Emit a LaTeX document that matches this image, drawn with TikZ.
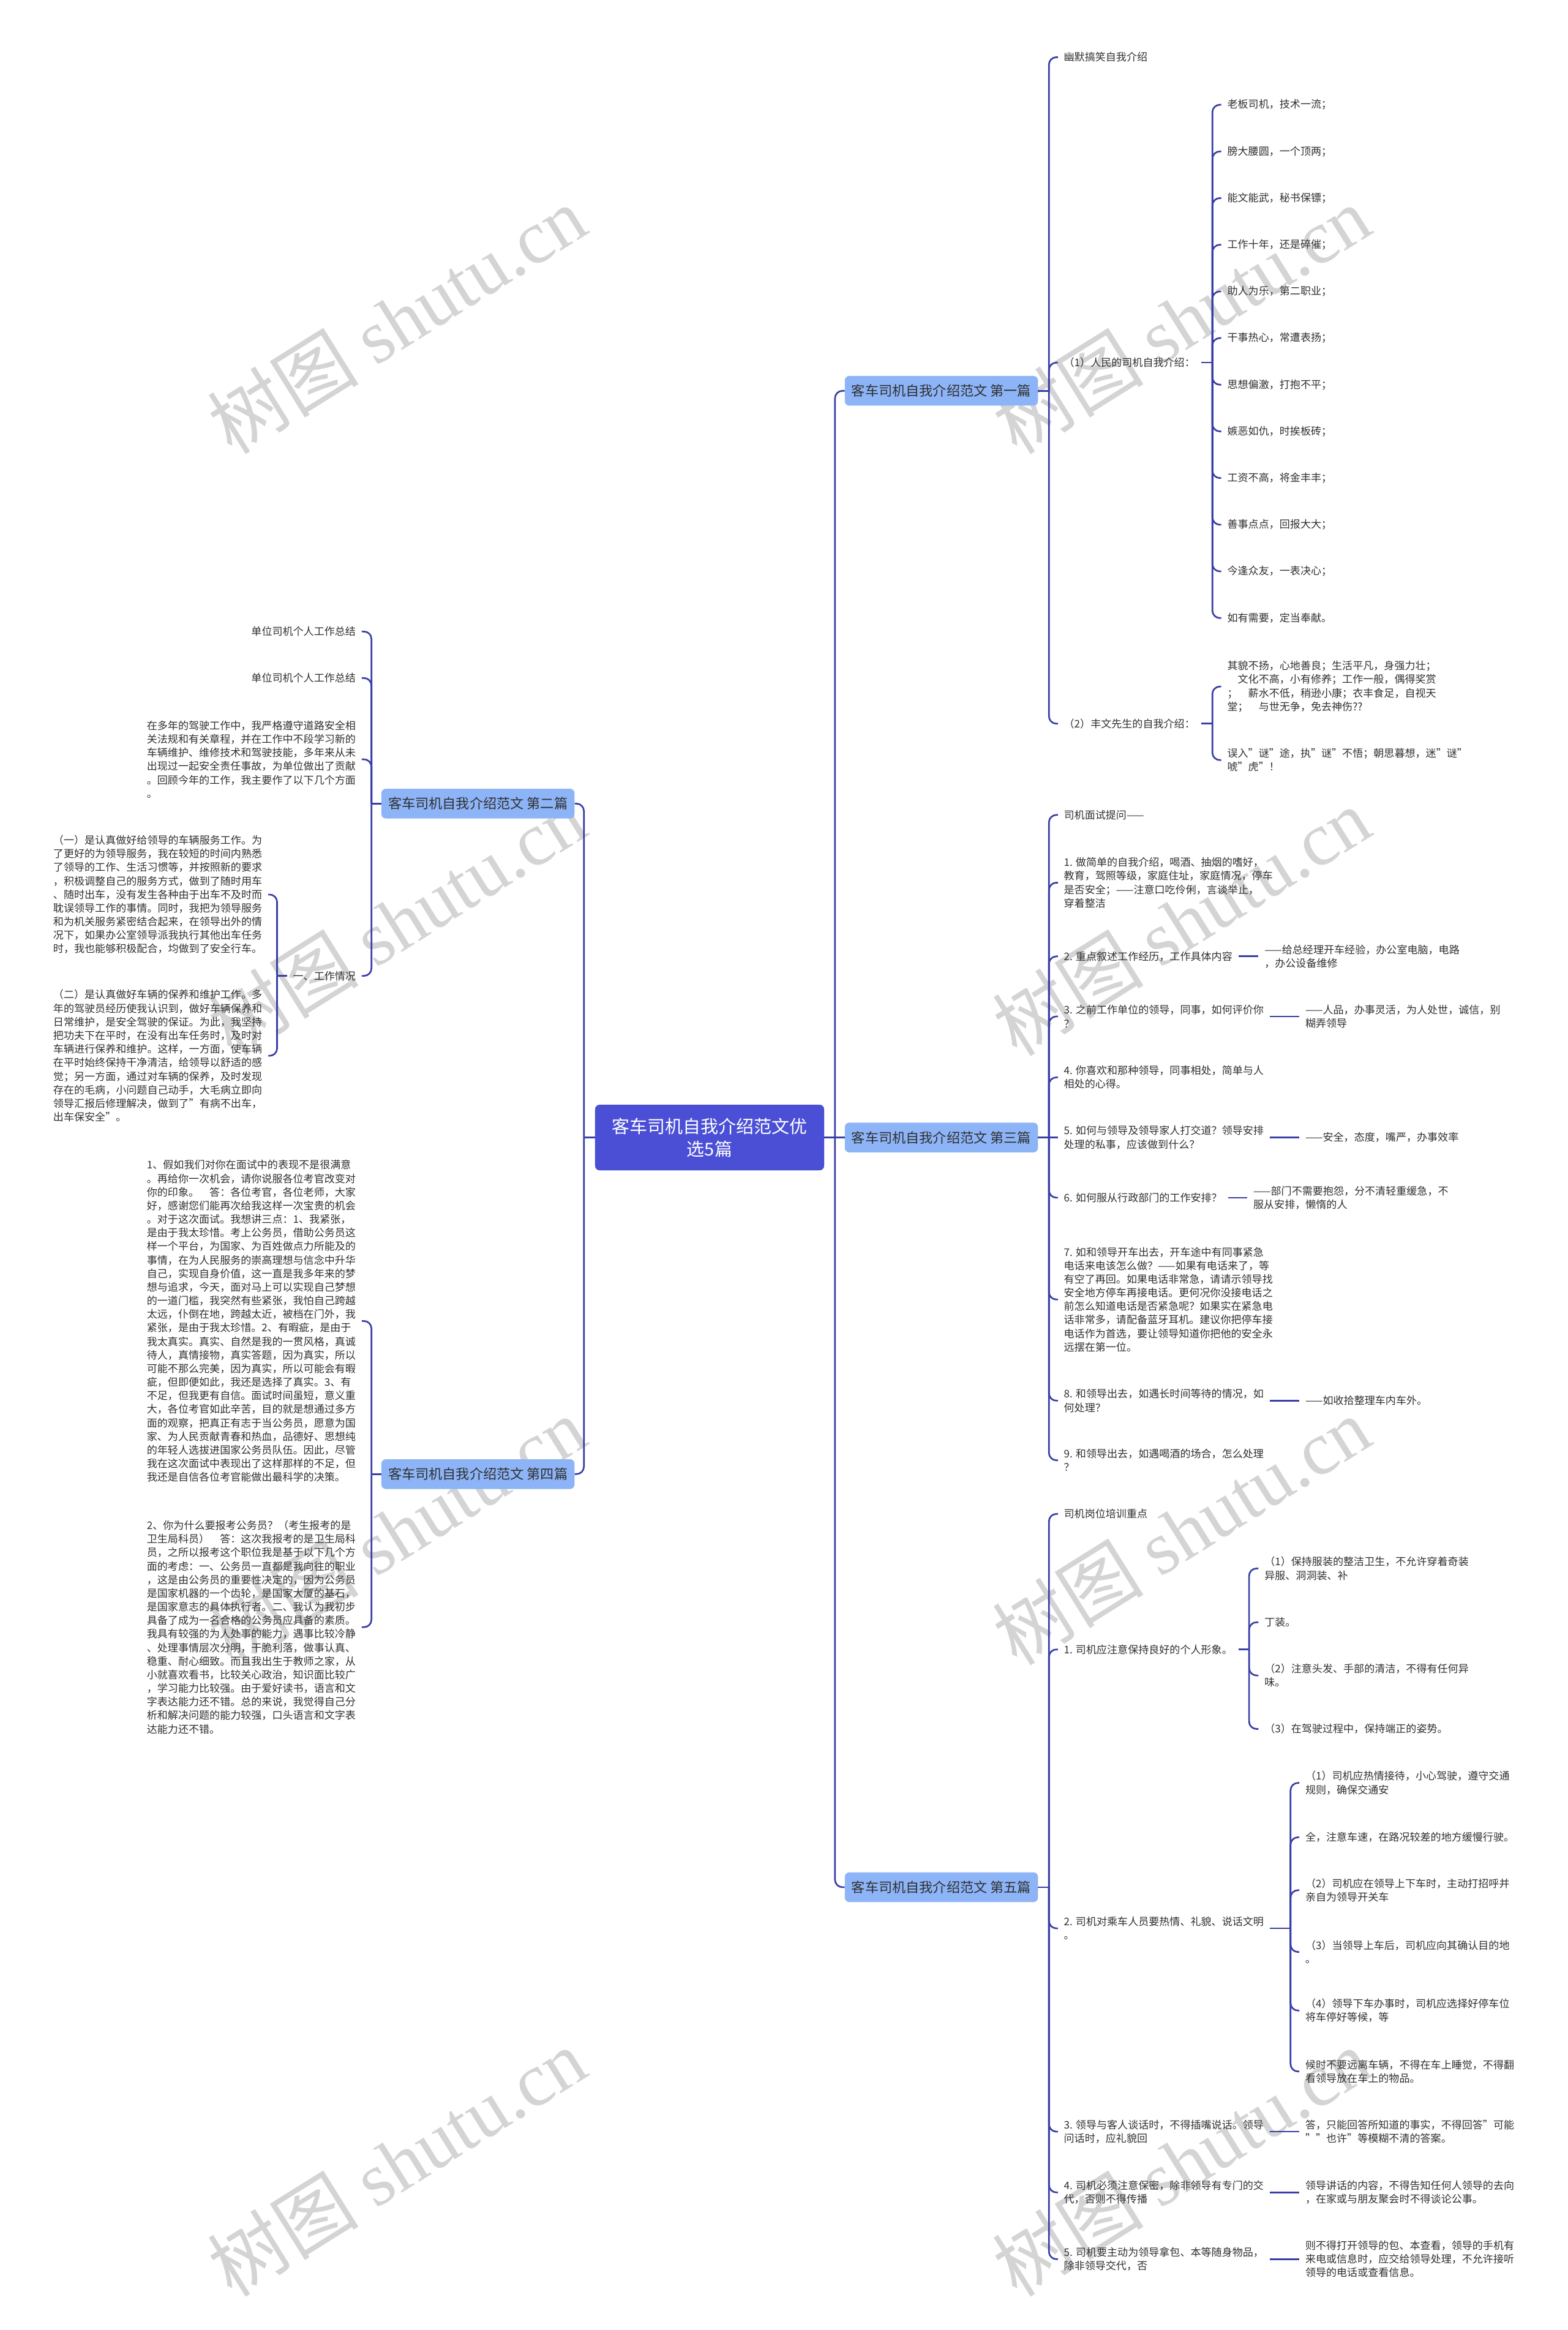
\documentclass[tikz,border=0pt]{standalone}
\usepackage{fontspec}
\setmainfont{Noto Sans CJK SC}
\newfontfamily\markserif{Liberation Serif}
\usetikzlibrary{positioning,calc}
\definecolor{rootblue}{RGB}{74,79,214}
\definecolor{topicblue}{RGB}{140,180,247}
\definecolor{linknavy}{RGB}{56,62,166}
\definecolor{leafgray}{RGB}{48,48,48}
\definecolor{markgray}{RGB}{212,212,212}

\begin{document}
\begin{tikzpicture}[
    x=1mm, y=-1mm,
    rootbox/.style={fill=rootblue, draw=rootblue!85!black, rounded corners=3mm, text=white, align=center, minimum width=154mm, minimum height=44mm, inner sep=0pt, font=\fontsize{34}{44}\selectfont},
    topicbox/.style={fill=topicblue, rounded corners=3mm, text=leafgray, minimum width=130mm, minimum height=20mm, inner sep=0pt, font=\fontsize{26}{30}\selectfont},
    leaf/.style={text=leafgray, align=left, inner xsep=4mm, inner ysep=1mm, font=\fontsize{20}{26}\selectfont},
    conn/.style={draw=linknavy, line width=1.1mm, rounded corners=5mm},
    watermark/.style={text=markgray, rotate=32, inner sep=0pt, font=\fontsize{145}{150}\selectfont}
]

% Page
\fill[white] (0,0) rectangle (1055,1568);
\useasboundingbox (0,0) rectangle (1055,1568);

% Watermarks
\foreach \mx in {267,795}
  \foreach \my [count=\w] in {215,620,1030,1455}
    \node[watermark] (wm\mx-\w) at (\mx,\my) {树图 {\markserif shutu.cn}};

% Root and the five topics
\node[rootbox] (root) at (477.6,765.5) {客车司机自我介绍范文优\\选5篇};
\node[topicbox] (t1) at (633.6,263) {客车司机自我介绍范文 第一篇};
\node[topicbox] (t3) at (633.6,765.5) {客车司机自我介绍范文 第三篇};
\node[topicbox] (t5) at (633.6,1270) {客车司机自我介绍范文 第五篇};
\node[topicbox] (t2) at (321.7,540.8) {客车司机自我介绍范文 第二篇};
\node[topicbox] (t4) at (321.7,992) {客车司机自我介绍范文 第四篇};

\coordinate (rs) at (562,765.5);
\coordinate (ls) at (393,765.5);
\draw[conn] (root.east) -- (t3.west);
\draw[conn] (rs) |- (t1.west);
\draw[conn] (rs) |- (t5.west);
\draw[conn] (root.west) -- (ls);
\draw[conn] (ls) |- (t2.east);
\draw[conn] (ls) |- (t4.east);

% Topic 1
\node[leaf, anchor=west] (a1) at (712,38.5) {幽默搞笑自我介绍};
\node[leaf, anchor=west] (a2) at (712,244) {（1）人民的司机自我介绍：};
\node[leaf, anchor=west] (a3) at (712,487) {（2）丰文先生的自我介绍：};
\coordinate (t1s) at (706,263);
\draw[conn] (t1.east) -- (t1s);
\foreach \c in {a1,a2,a3}
  \draw[conn] (t1s) |- (\c.west);

\coordinate (a2s) at (816,244);
\draw[conn] (a2.east) -- (a2s);
\foreach \txt [count=\k from 0] in {老板司机，技术一流；,膀大腰圆，一个顶两；,能文能武，秘书保镖；,工作十年，还是碎催；,助人为乐，第二职业；,干事热心，常遭表扬；,思想偏激，打抱不平；,嫉恶如仇，时挨板砖；,工资不高，将金丰丰；,善事点点，回报大大；,今逢众友，一表决心；,如有需要，定当奉献。} {
  \node[leaf, anchor=west] (rule\k) at (822,{70.5+31.4*\k}) {\txt};
  \draw[conn] (a2s) |- (rule\k.west);
}

\node[leaf, anchor=west] (a3a) at (822,462) {其貌不扬，心地善良；生活平凡，身强力壮；\\　文化不高，小有修养；工作一般，偶得奖赏\\；　薪水不低，稍逊小康；衣丰食足，自视天\\堂；　与世无争，免去神伤??};
\node[leaf, anchor=west] (a3b) at (822,511.5) {误入"谜"途，执"谜"不悟；朝思暮想，迷"谜"\\唬"虎"！};
\coordinate (a3s) at (816,487);
\draw[conn] (a3.east) -- (a3s);
\draw[conn] (a3s) |- (a3a.west);
\draw[conn] (a3s) |- (a3b.west);

% Topic 3
\node[leaf, anchor=west] (b0) at (712,548.4) {司机面试提问——};
\node[leaf, anchor=west] (b1) at (712,594) {1. 做简单的自我介绍，喝酒、抽烟的嗜好，\\教育，驾照等级，家庭住址，家庭情况，停车\\是否安全；——注意口吃伶俐，言谈举止，\\穿着整洁};
\node[leaf, anchor=west] (b2) at (712,643.6) {2. 重点叙述工作经历，工作具体内容};
\node[leaf, anchor=west] (b3) at (712,684) {3. 之前工作单位的领导，同事，如何评价你\\？};
\node[leaf, anchor=west] (b4) at (712,725) {4. 你喜欢和那种领导，同事相处，简单与人\\相处的心得。};
\node[leaf, anchor=west] (b5) at (712,765.5) {5. 如何与领导及领导家人打交道？领导安排\\处理的私事，应该做到什么？};
\node[leaf, anchor=west] (b6) at (712,806) {6. 如何服从行政部门的工作安排？};
\node[leaf, anchor=west] (b7) at (712,874.5) {7. 如和领导开车出去，开车途中有同事紧急\\电话来电该怎么做？——如果有电话来了，等\\有空了再回。如果电话非常急，请请示领导找\\安全地方停车再接电话。更何况你没接电话之\\前怎么知道电话是否紧急呢？如果实在紧急电\\话非常多，请配备蓝牙耳机。建议你把停车接\\电话作为首选，要让领导知道你把他的安全永\\远摆在第一位。};
\node[leaf, anchor=west] (b8) at (712,942.6) {8. 和领导出去，如遇长时间等待的情况，如\\何处理？};
\node[leaf, anchor=west] (b9) at (712,982.7) {9. 和领导出去，如遇喝酒的场合，怎么处理\\？};
\coordinate (t3s) at (706,765.5);
\draw[conn] (t3.east) -- (b5.west);
\foreach \c in {b0,b1,b2,b3,b4,b6,b7,b8,b9}
  \draw[conn] (t3s) |- (\c.west);

\node[leaf, anchor=west] (b2x) at (847,643.6) {——给总经理开车经验，办公室电脑，电路\\，办公设备维修};
\node[leaf, anchor=west] (b3x) at (874.5,684) {——人品，办事灵活，为人处世，诚信，别\\糊弄领导};
\node[leaf, anchor=west] (b5x) at (874.5,765.5) {——安全，态度，嘴严，办事效率};
\node[leaf, anchor=west] (b6x) at (839.5,806) {——部门不需要抱怨，分不清轻重缓急，不\\服从安排，懒惰的人};
\node[leaf, anchor=west] (b8x) at (874.5,942.6) {——如收拾整理车内车外。};
\foreach \c in {b2,b3,b5,b6,b8}
  \draw[conn] (\c.east) -- (\c x.west);

% Topic 5
\node[leaf, anchor=west] (c0) at (712,1018.8) {司机岗位培训重点};
\node[leaf, anchor=west] (c1) at (712,1110) {1. 司机应注意保持良好的个人形象。};
\node[leaf, anchor=west] (c2) at (712,1297.7) {2. 司机对乘车人员要热情、礼貌、说话文明\\。};
\node[leaf, anchor=west] (c3) at (712,1434.5) {3. 领导与客人谈话时，不得插嘴说话。领导\\问话时，应礼貌回};
\node[leaf, anchor=west] (c4) at (712,1475.4) {4. 司机必须注意保密，除非领导有专门的交\\代，否则不得传播};
\node[leaf, anchor=west] (c5) at (712,1520.3) {5. 司机要主动为领导拿包、本等随身物品，\\除非领导交代，否};
\coordinate (t5s) at (706,1270);
\draw[conn] (t5.east) -- (t5s);
\foreach \c in {c0,c1,c2,c3,c4,c5}
  \draw[conn] (t5s) |- (\c.west);

\node[leaf, anchor=west] (c1a) at (847,1055.5) {（1）保持服装的整洁卫生，不允许穿着奇装\\异服、洞洞装、补};
\node[leaf, anchor=west] (c1b) at (847,1091.7) {丁装。};
\node[leaf, anchor=west] (c1c) at (847,1127.5) {（2）注意头发、手部的清洁，不得有任何异\\味。};
\node[leaf, anchor=west] (c1d) at (847,1163.5) {（3）在驾驶过程中，保持端正的姿势。};
\coordinate (c1s) at (840.7,1110);
\draw[conn] (c1.east) -- (c1s);
\foreach \c in {c1a,c1b,c1c,c1d}
  \draw[conn] (c1s) |- (\c.west);

\node[leaf, anchor=west] (c2a) at (874.5,1199.8) {（1）司机应热情接待，小心驾驶，遵守交通\\规则，确保交通安};
\node[leaf, anchor=west] (c2b) at (874.5,1236.4) {全，注意车速，在路况较差的地方缓慢行驶。};
\node[leaf, anchor=west] (c2c) at (874.5,1272) {（2）司机应在领导上下车时，主动打招呼并\\亲自为领导开关车};
\node[leaf, anchor=west] (c2d) at (874.5,1313.6) {（3）当领导上车后，司机应向其确认目的地\\。};
\node[leaf, anchor=west] (c2e) at (874.5,1353) {（4）领导下车办事时，司机应选择好停车位\\将车停好等候，等};
\node[leaf, anchor=west] (c2f) at (874.5,1394) {候时不要远离车辆，不得在车上睡觉，不得翻\\看领导放在车上的物品。};
\coordinate (c2s) at (868.6,1297.7);
\draw[conn] (c2.east) -- (c2s);
\foreach \c in {c2a,c2b,c2c,c2d,c2e,c2f}
  \draw[conn] (c2s) |- (\c.west);

\node[leaf, anchor=west] (c3x) at (874.5,1434.5) {答，只能回答所知道的事实，不得回答"可能\\""也许"等模糊不清的答案。};
\node[leaf, anchor=west] (c4x) at (874.5,1475.4) {领导讲话的内容，不得告知任何人领导的去向\\，在家或与朋友聚会时不得谈论公事。};
\node[leaf, anchor=west] (c5x) at (874.5,1520.3) {则不得打开领导的包、本查看，领导的手机有\\来电或信息时，应交给领导处理，不允许接听\\领导的电话或查看信息。};
\foreach \c in {c3,c4,c5}
  \draw[conn] (\c.east) -- (\c x.west);

% Topic 2 (left)
\node[leaf, anchor=east] (d1) at (243.5,425) {单位司机个人工作总结};
\node[leaf, anchor=east] (d2) at (243.5,456.3) {单位司机个人工作总结};
\node[leaf, anchor=east] (d3) at (243.5,511) {在多年的驾驶工作中，我严格遵守道路安全相\\关法规和有关章程，并在工作中不段学习新的\\车辆维护、维修技术和驾驶技能，多年来从未\\出现过一起安全责任事故，为单位做出了贡献\\。回顾今年的工作，我主要作了以下几个方面\\。};
\node[leaf, anchor=east] (d4) at (243.5,656.7) {一、工作情况};
\coordinate (t2s) at (250,540.8);
\draw[conn] (t2.west) -- (t2s);
\foreach \c in {d1,d2,d3,d4}
  \draw[conn] (t2s) |- (\c.east);

\node[leaf, anchor=east] (d4a) at (180.5,602) {（一）是认真做好给领导的车辆服务工作。为\\了更好的为领导服务，我在较短的时间内熟悉\\了领导的工作、生活习惯等，并按照新的要求\\，积极调整自己的服务方式，做到了随时用车\\、随时出车，没有发生各种由于出车不及时而\\耽误领导工作的事情。同时，我把为领导服务\\和为机关服务紧密结合起来，在领导出外的情\\况下，如果办公室领导派我执行其他出车任务\\时，我也能够积极配合，均做到了安全行车。};
\node[leaf, anchor=east] (d4b) at (180.5,710.5) {（二）是认真做好车辆的保养和维护工作。多\\年的驾驶员经历使我认识到，做好车辆保养和\\日常维护，是安全驾驶的保证。为此，我坚持\\把功夫下在平时，在没有出车任务时，及时对\\车辆进行保养和维护。这样，一方面，使车辆\\在平时始终保持干净清洁，给领导以舒适的感\\觉；另一方面，通过对车辆的保养，及时发现\\存在的毛病，小问题自己动手，大毛病立即向\\领导汇报后修理解决，做到了"有病不出车，\\出车保安全"。};
\coordinate (d4s) at (186.5,656.7);
\draw[conn] (d4.west) -- (d4s);
\draw[conn] (d4s) |- (d4a.east);
\draw[conn] (d4s) |- (d4b.east);

% Topic 4 (left)
\node[leaf, anchor=east] (e1) at (243.5,889) {1、假如我们对你在面试中的表现不是很满意\\。再给你一次机会，请你说服各位考官改变对\\你的印象。　答：各位考官，各位老师，大家\\好，感谢您们能再次给我这样一次宝贵的机会\\。对于这次面试。我想讲三点：1、我紧张，\\是由于我太珍惜。考上公务员，借助公务员这\\样一个平台，为国家、为百姓做点力所能及的\\事情，在为人民服务的崇高理想与信念中升华\\自己，实现自身价值，这一直是我多年来的梦\\想与追求，今天，面对马上可以实现自己梦想\\的一道门槛，我突然有些紧张，我怕自己跨越\\太远，仆倒在地，跨越太近，被档在门外，我\\紧张，是由于我太珍惜。2、有暇疵，是由于\\我太真实。真实、自然是我的一贯风格，真诚\\待人，真情接物，真实答题，因为真实，所以\\可能不那么完美，因为真实，所以可能会有暇\\疵，但即便如此，我还是选择了真实。3、有\\不足，但我更有自信。面试时间虽短，意义重\\大，各位考官如此辛苦，目的就是想通过多方\\面的观察，把真正有志于当公务员，愿意为国\\家、为人民贡献青春和热血，品德好、思想纯\\的年轻人选拔进国家公务员队伍。因此，尽管\\我在这次面试中表现出了这样那样的不足，但\\我还是自信各位考官能做出最科学的决策。};
\node[leaf, anchor=east] (e2) at (243.5,1095) {2、你为什么要报考公务员？（考生报考的是\\卫生局科员）　答：这次我报考的是卫生局科\\员，之所以报考这个职位我是基于以下几个方\\面的考虑：一、公务员一直都是我向往的职业\\，这是由公务员的重要性决定的，因为公务员\\是国家机器的一个齿轮，是国家大厦的基石，\\是国家意志的具体执行者。二、我认为我初步\\具备了成为一名合格的公务员应具备的素质。\\我具有较强的为人处事的能力，遇事比较冷静\\、处理事情层次分明，干脆利落，做事认真、\\稳重、耐心细致。而且我出生于教师之家，从\\小就喜欢看书，比较关心政治，知识面比较广\\，学习能力比较强。由于爱好读书，语言和文\\字表达能力还不错。总的来说，我觉得自己分\\析和解决问题的能力较强，口头语言和文字表\\达能力还不错。};
\coordinate (t4s) at (250,992);
\draw[conn] (t4.west) -- (t4s);
\draw[conn] (t4s) |- (e1.east);
\draw[conn] (t4s) |- (e2.east);

\end{tikzpicture}
\end{document}
